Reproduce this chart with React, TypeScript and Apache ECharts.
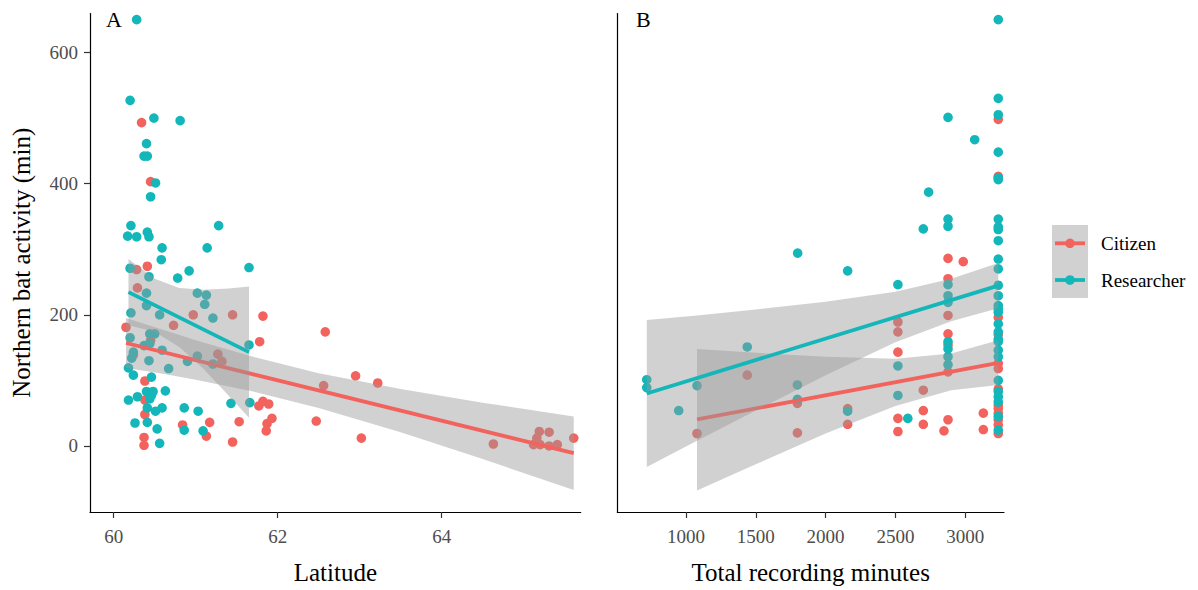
import React, { useEffect, useRef } from "react";
import * as echarts from "echarts";

const CIT_COLOR = "#F3635D";
const RES_COLOR = "#13B6B9";
const BAND_FILL = "rgba(153,153,153,0.45)";
const FONT = "Liberation Serif";

// Panel A: [latitude, activity (min)]
const citizenLat: [number, number][] = [
  [60.34, 493], [60.45, 403], [60.41, 274], [60.28, 269], [60.29, 241], [60.97, 200], [61.45, 200],
  [61.82, 198], [60.73, 184], [60.15, 181], [62.58, 174], [61.78, 159], [60.45, 161], [60.24, 139],
  [61.27, 140], [61.32, 129], [62.56, 92], [60.38, 99], [60.38, 70], [61.77, 61], [61.82, 68],
  [61.89, 64], [60.38, 48], [61.93, 42], [61.87, 34], [61.86, 23], [61.17, 36], [61.53, 37],
  [62.47, 38], [60.84, 32], [61.13, 15], [60.37, 13], [61.45, 6], [60.37, 1], [62.95, 107],
  [63.22, 96], [63.02, 12], [64.63, 3], [65.19, 22], [65.31, 21], [65.16, 12], [65.12, 2],
  [65.2, 2], [65.31, 0], [65.41, 2], [65.61, 12],
];
const researcherLat: [number, number][] = [
  [60.28, 650], [60.2, 527], [60.49, 500], [60.81, 496], [60.4, 461], [60.37, 442], [60.41, 442],
  [60.51, 401], [60.45, 380], [60.21, 336], [60.17, 320], [60.28, 319], [60.41, 326], [60.43, 319],
  [61.28, 336], [60.59, 302], [61.14, 302], [60.58, 284], [60.2, 271], [60.43, 258], [60.78, 256],
  [60.92, 267], [61.65, 272], [60.4, 233], [61.02, 233], [61.13, 230], [61.11, 216], [60.4, 214],
  [60.21, 203], [60.56, 200], [61.21, 195], [60.44, 171], [60.5, 171], [60.2, 165], [61.65, 154],
  [60.37, 153], [60.44, 156], [60.59, 146], [60.24, 143], [61.02, 137], [60.22, 134], [60.9, 129],
  [61.21, 125], [60.43, 130], [60.18, 119], [60.67, 118], [60.24, 108], [60.46, 105], [60.4, 83],
  [60.48, 83], [60.63, 84], [60.18, 70], [60.29, 75], [60.46, 77], [60.44, 72], [61.43, 65],
  [61.66, 66], [60.41, 58], [60.59, 58], [60.51, 53], [60.86, 58], [61.03, 53], [60.26, 35],
  [60.41, 36], [60.53, 26], [60.86, 24], [61.09, 23], [60.56, 4],
];

// Panel B: [total recording minutes, activity (min)]
const citizenMin: [number, number][] = [
  [1079, 19], [1439, 108], [1798, 65], [1798, 20], [2158, 57], [2158, 33], [2518, 189], [2518, 174],
  [2518, 143], [2518, 42], [2518, 22], [2700, 85], [2700, 54], [2700, 33], [2877, 286], [2877, 255],
  [2877, 199], [2877, 171], [2877, 154], [2877, 113], [2877, 40], [2848, 23], [2986, 281], [3130, 50],
  [3130, 25], [3237, 498], [3237, 411], [3237, 196], [3237, 170], [3237, 126], [3237, 118], [3237, 87],
  [3237, 62], [3237, 57], [3237, 50], [3237, 40], [3237, 32], [3237, 19],
];
const researcherMin: [number, number][] = [
  [719, 101], [719, 89], [948, 54], [1079, 92], [1439, 151], [1798, 93], [1798, 71], [1800, 294],
  [2158, 267], [2158, 53], [2518, 246], [2518, 122], [2518, 77], [2589, 42], [2700, 331], [2738, 387],
  [2877, 501], [2877, 346], [2877, 335], [2877, 246], [2877, 229], [2877, 219], [2877, 159], [2877, 148],
  [2877, 136], [2877, 124], [3068, 467], [3237, 650], [3237, 530], [3237, 505], [3237, 448], [3237, 409],
  [3237, 406], [3237, 346], [3237, 334], [3237, 330], [3237, 313], [3237, 285], [3237, 270], [3237, 245],
  [3237, 229], [3237, 214], [3237, 209], [3237, 204], [3237, 186], [3237, 174], [3237, 163], [3237, 159],
  [3237, 146], [3237, 136], [3237, 100], [3237, 83], [3237, 75], [3237, 67], [3237, 45], [3237, 24],
];

// Linear fits and 95% confidence bands: [x, y] and [x, lower, upper]
const fitCitizenLat: [number, number][] = [[60.15, 157], [65.61, -11]];
const bandCitizenLat: [number, number, number][] = [
  [60.15, 119, 195], [60.6, 110, 177], [61.0, 101, 161], [61.7, 83, 136], [62.5, 58, 111],
  [63.5, 21, 87], [64.5, -20, 66], [65.61, -67, 45],
];
const fitResearcherLat: [number, number][] = [[60.18, 234.5], [61.65, 143]];
const bandResearcherLat: [number, number, number][] = [
  [60.18, 184, 285], [60.5, 174, 255], [60.8, 151, 241], [61.1, 117, 238], [61.4, 77, 240], [61.65, 43, 243],
];
const fitCitizenMin: [number, number][] = [[1079, 40.5], [3237, 126.6]];
const bandCitizenMin: [number, number, number][] = [
  [1079, -68, 148], [1500, -28, 142], [2000, 19, 136], [2500, 61, 133], [2900, 85, 141], [3237, 93, 161],
];
const fitResearcherMin: [number, number][] = [[719, 80], [3237, 244.5]];
const bandResearcherMin: [number, number, number][] = [
  [719, -32, 192], [1079, 8, 199], [1500, 54, 208], [2000, 108, 220], [2500, 158, 235], [2900, 190, 255],
  [3237, 210, 279],
];

const yTicks = [0, 200, 400, 600];
const latTicks = [60, 62, 64];
const minTicks = [1000, 1500, 2000, 2500, 3000];
const groups = ["Citizen", "Researcher"];

function bandSeries(band: [number, number, number][], idx: number, z: number) {
  return {
    type: "custom",
    xAxisIndex: idx,
    yAxisIndex: idx,
    silent: true,
    z,
    clip: true,
    data: [[band[0][0], band[0][1]]],
    renderItem: (_params: any, api: any) => {
      const upper = band.map((b) => api.coord([b[0], b[2]]));
      const lower = band
        .slice()
        .reverse()
        .map((b) => api.coord([b[0], b[1]]));
      return {
        type: "polygon",
        shape: { points: upper.concat(lower) },
        style: { fill: BAND_FILL, stroke: null },
      };
    },
  };
}

function lineSeries(fit: [number, number][], idx: number, color: string, z: number) {
  return {
    type: "line",
    xAxisIndex: idx,
    yAxisIndex: idx,
    data: fit,
    symbol: "none",
    silent: true,
    z,
    lineStyle: { color, width: 3.8 },
  };
}

function scatterSeries(data: [number, number][], idx: number, color: string, z: number) {
  return {
    type: "scatter",
    xAxisIndex: idx,
    yAxisIndex: idx,
    data,
    symbolSize: 9.6,
    z,
    itemStyle: { color, opacity: 1 },
  };
}

export default function App() {
  const ref = useRef<HTMLDivElement>(null);
  useEffect(() => {
    if (!ref.current) return;
    const chart = echarts.init(ref.current, null, { renderer: "svg" });
    const tickLabel = {
      color: "#4D4D4D",
      fontSize: 19,
      fontFamily: FONT,
      formatter: (v: number) => String(v),
    };
    const axisLine = { show: true, onZero: false, lineStyle: { color: "#000", width: 1.2 } };
    const axisTick = { show: true, length: 6, lineStyle: { color: "#333", width: 1.2 } };
    const nameStyle = { color: "#000", fontSize: 25, fontFamily: FONT };
    const yMin = -100.7;
    const yMax = 659.4;

    chart.setOption({
      animation: false,
      backgroundColor: "#fff",
      textStyle: { fontFamily: FONT },
      grid: [
        { left: 90, top: 13.5, width: 490.7, height: 500.5 },
        { left: 617.3, top: 13.5, width: 386.7, height: 500.5 },
      ],
      xAxis: [
        {
          type: "value", gridIndex: 0, min: 59.711, max: 65.695,
          axisLine, axisTick: { ...axisTick, customValues: latTicks },
          axisLabel: { ...tickLabel, margin: 15, customValues: latTicks },
          splitLine: { show: false },
          name: "Latitude", nameLocation: "middle", nameGap: 48, nameTextStyle: nameStyle,
        },
        {
          type: "value", gridIndex: 1, min: 508, max: 3278,
          axisLine, axisTick: { ...axisTick, customValues: minTicks },
          axisLabel: { ...tickLabel, margin: 15, customValues: minTicks },
          splitLine: { show: false },
          name: "Total recording minutes", nameLocation: "middle", nameGap: 48, nameTextStyle: nameStyle,
        },
      ],
      yAxis: [
        {
          type: "value", gridIndex: 0, min: yMin, max: yMax,
          axisLine, axisTick: { ...axisTick, customValues: yTicks },
          axisLabel: { ...tickLabel, margin: 12, customValues: yTicks },
          splitLine: { show: false },
          name: "Northern bat activity (min)", nameLocation: "middle", nameGap: 56, nameTextStyle: nameStyle,
        },
        {
          type: "value", gridIndex: 1, min: yMin, max: yMax,
          axisLine, axisTick: { show: false }, axisLabel: { show: false },
          splitLine: { show: false },
        },
      ],
      series: [
        scatterSeries(citizenLat, 0, CIT_COLOR, 2),
        scatterSeries(researcherLat, 0, RES_COLOR, 2),
        bandSeries(bandCitizenLat, 0, 3),
        lineSeries(fitCitizenLat, 0, CIT_COLOR, 4),
        bandSeries(bandResearcherLat, 0, 5),
        lineSeries(fitResearcherLat, 0, RES_COLOR, 6),
        scatterSeries(citizenMin, 1, CIT_COLOR, 2),
        scatterSeries(researcherMin, 1, RES_COLOR, 2),
        bandSeries(bandCitizenMin, 1, 3),
        lineSeries(fitCitizenMin, 1, CIT_COLOR, 4),
        bandSeries(bandResearcherMin, 1, 5),
        lineSeries(fitResearcherMin, 1, RES_COLOR, 6),
      ],
      graphic: [
        { type: "text", left: 106, top: 8, style: { text: "A", fontSize: 22, fontFamily: FONT, fill: "#000" } },
        { type: "text", left: 636, top: 8, style: { text: "B", fontSize: 22, fontFamily: FONT, fill: "#000" } },
        { type: "rect", shape: { x: 1052, y: 225, width: 36, height: 73 }, style: { fill: BAND_FILL } },
        { type: "line", shape: { x1: 1055, y1: 243.3, x2: 1085, y2: 243.3 }, style: { stroke: CIT_COLOR, lineWidth: 3.8 } },
        { type: "circle", shape: { cx: 1070, cy: 243.3, r: 4.8 }, style: { fill: CIT_COLOR } },
        { type: "line", shape: { x1: 1055, y1: 280, x2: 1085, y2: 280 }, style: { stroke: RES_COLOR, lineWidth: 3.8 } },
        { type: "circle", shape: { cx: 1070, cy: 280, r: 4.8 }, style: { fill: RES_COLOR } },
        { type: "text", x: 1101, y: 243.3, style: { text: groups[0], fontSize: 19, fontFamily: FONT, fill: "#000", verticalAlign: "middle" } },
        { type: "text", x: 1101, y: 280, style: { text: groups[1], fontSize: 19, fontFamily: FONT, fill: "#000", verticalAlign: "middle" } },
      ],
    });
    return () => chart.dispose();
  }, []);
  return (
    <div
      ref={ref}
      style={{ position: "fixed", left: 0, top: 0, width: 1198, height: 590, background: "#fff" }}
    />
  );
}
